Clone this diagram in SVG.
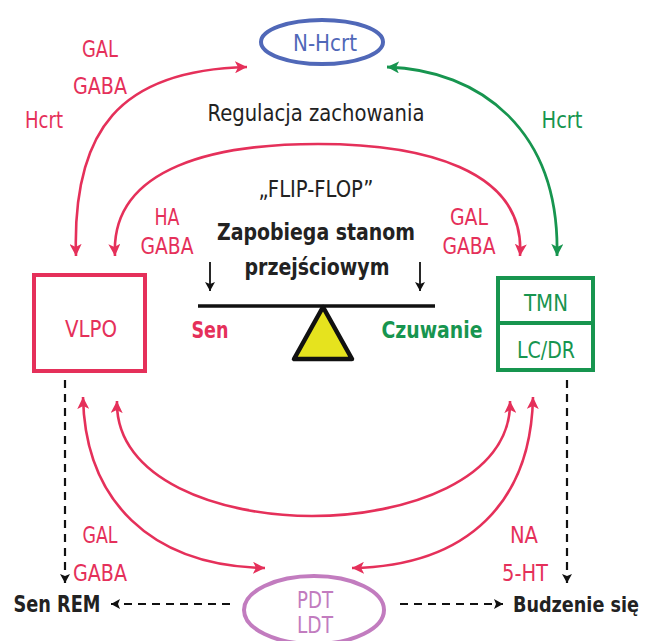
<svg xmlns="http://www.w3.org/2000/svg" width="649" height="641" viewBox="0 0 649 641">
<style>
text{font-family:'Liberation Sans Narrow','DejaVu Sans Condensed','Liberation Sans',sans-serif;font-size:23px;text-anchor:middle}
.r{fill:#e5305a}.g{fill:#17954f}.k{fill:#222}.b{font-weight:bold}
.arc{fill:none;stroke:#e5305a;stroke-width:2.6;marker-start:url(#ar);marker-end:url(#ar)}
.dash{fill:none;stroke:#111;stroke-width:2.2;stroke-dasharray:8 6}
</style>
<defs>
<marker id="ar" markerUnits="userSpaceOnUse" markerWidth="14" markerHeight="12" refX="12" refY="6" orient="auto-start-reverse"><path d="M0,0 L12,6 L0,12 L3,6 z" fill="#e5305a"/></marker>
<marker id="ag" markerUnits="userSpaceOnUse" markerWidth="14" markerHeight="12" refX="12" refY="6" orient="auto-start-reverse"><path d="M0,0 L12,6 L0,12 L3,6 z" fill="#17954f"/></marker>
<marker id="ak" markerUnits="userSpaceOnUse" markerWidth="10" markerHeight="10" refX="9" refY="5" orient="auto"><path d="M0,0 L9,5 L0,10 L2,5 z" fill="#111"/></marker>
</defs>

<g id="connectors">
<path class="arc" d="M76,256 C72,130 120,70 247,67"/>
<path class="arc" d="M115,256 C110,165 220,144 318,144 C420,144 526,168 520,256"/>
<path d="M387,67 C480,70 560,130 557,256" fill="none" stroke="#17954f" stroke-width="2.8" marker-start="url(#ag)" marker-end="url(#ag)"/>
<path class="arc" d="M83,397 C85,500 150,566 265,568"/>
<path class="arc" d="M117,401 C115,480 220,516 312,516 C405,516 512,480 510,401"/>
<path class="arc" d="M533,397 C531,500 470,566 352,568"/>
<path class="dash" d="M65,380 V583" marker-end="url(#ak)"/>
<path class="dash" d="M567,380 V583" marker-end="url(#ak)"/>
<path class="dash" d="M230,604 H111" marker-end="url(#ak)"/>
<path class="dash" d="M400,604 H503" marker-end="url(#ak)"/>
</g>

<g id="n-hcrt">
<ellipse cx="322" cy="42" rx="61" ry="22" fill="none" stroke="#5068b8" stroke-width="4"/>
<text x="325" y="51" fill="#5068b8" textLength="64" lengthAdjust="spacingAndGlyphs">N-Hcrt</text>
</g>

<g id="vlpo">
<rect x="34" y="275" width="111" height="96" fill="none" stroke="#e5305a" stroke-width="4"/>
<text class="r" x="91" y="337" textLength="52" lengthAdjust="spacingAndGlyphs">VLPO</text>
</g>

<g id="tmn-lcdr">
<rect x="498" y="278" width="95" height="92" fill="none" stroke="#17954f" stroke-width="4"/>
<line x1="498" y1="323" x2="593" y2="323" stroke="#17954f" stroke-width="4"/>
<text class="g" x="546" y="311" textLength="44" lengthAdjust="spacingAndGlyphs">TMN</text>
<text class="g" x="546" y="358" textLength="58" lengthAdjust="spacingAndGlyphs">LC/DR</text>
</g>

<g id="pdt-ldt">
<ellipse cx="314" cy="610" rx="70" ry="34" fill="none" stroke="#c27cbf" stroke-width="4"/>
<text x="315" y="608" fill="#c27cbf" textLength="36" lengthAdjust="spacingAndGlyphs">PDT</text>
<text x="315" y="633" fill="#c27cbf" textLength="36" lengthAdjust="spacingAndGlyphs">LDT</text>
</g>

<g id="flip-flop">
<text class="k" x="316" y="197" textLength="115" lengthAdjust="spacingAndGlyphs">„FLIP-FLOP”</text>
<text class="k b" x="316" y="240" textLength="198" lengthAdjust="spacingAndGlyphs">Zapobiega stanom</text>
<text class="k b" x="317" y="275" textLength="145" lengthAdjust="spacingAndGlyphs">przejściowym</text>
<path d="M210,262 V291" stroke="#111" stroke-width="1.8" marker-end="url(#ak)"/>
<path d="M420,262 V291" stroke="#111" stroke-width="1.8" marker-end="url(#ak)"/>
<line x1="198" y1="306" x2="435" y2="306" stroke="#111" stroke-width="3.5"/>
<polygon points="323,307 294,359 352,359" fill="#e6e31e" stroke="#111" stroke-width="4.5" stroke-linejoin="round"/>
<text class="r b" x="210" y="338" textLength="37" lengthAdjust="spacingAndGlyphs">Sen</text>
<text class="g b" x="432" y="338" textLength="101" lengthAdjust="spacingAndGlyphs">Czuwanie</text>
</g>

<g id="labels">
<text class="r" x="100" y="57" textLength="36" lengthAdjust="spacingAndGlyphs">GAL</text>
<text class="r" x="100" y="94" textLength="54" lengthAdjust="spacingAndGlyphs">GABA</text>
<text class="r" x="44" y="128" textLength="38" lengthAdjust="spacingAndGlyphs">Hcrt</text>
<text class="k" x="316" y="121" textLength="217" lengthAdjust="spacingAndGlyphs">Regulacja zachowania</text>
<text class="g" x="562" y="128" textLength="41" lengthAdjust="spacingAndGlyphs">Hcrt</text>
<text class="r" x="167" y="225" textLength="25" lengthAdjust="spacingAndGlyphs">HA</text>
<text class="r" x="167" y="254" textLength="53" lengthAdjust="spacingAndGlyphs">GABA</text>
<text class="r" x="469" y="225" textLength="38" lengthAdjust="spacingAndGlyphs">GAL</text>
<text class="r" x="469" y="254" textLength="53" lengthAdjust="spacingAndGlyphs">GABA</text>
<text class="r" x="100" y="543" textLength="35" lengthAdjust="spacingAndGlyphs">GAL</text>
<text class="r" x="100" y="581" textLength="54" lengthAdjust="spacingAndGlyphs">GABA</text>
<text class="r" x="524" y="543" textLength="28" lengthAdjust="spacingAndGlyphs">NA</text>
<text class="r" x="525" y="581" textLength="46" lengthAdjust="spacingAndGlyphs">5-HT</text>
<text class="k b" x="57" y="612" textLength="87" lengthAdjust="spacingAndGlyphs">Sen REM</text>
<text class="k b" x="576" y="612" style="font-size:21px" textLength="126" lengthAdjust="spacingAndGlyphs">Budzenie się</text>
</g>
</svg>
